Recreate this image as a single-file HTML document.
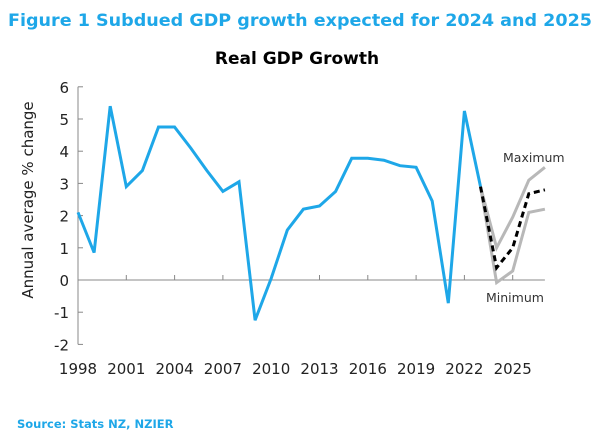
<!DOCTYPE html>
<html><head><meta charset="utf-8"><style>
body{margin:0;background:#fff;width:600px;height:447px;overflow:hidden}
svg{display:block;font-family:"DejaVu Sans","Liberation Sans",sans-serif}
</style></head><body>
<svg id="c" width="600" height="447" viewBox="0 0 600 447">
<text x="8" y="26" font-size="17" font-weight="bold" fill="#1ea7e8" textLength="584" lengthAdjust="spacingAndGlyphs">Figure 1 Subdued GDP growth expected for 2024 and 2025</text>
<text x="297" y="64" font-size="17" font-weight="bold" fill="#000" text-anchor="middle">Real GDP Growth</text>
<text x="17" y="428" font-size="11.5" font-weight="bold" fill="#1ea7e8">Source: Stats NZ, NZIER</text>
<text transform="translate(33,200) rotate(-90)" font-size="15" text-anchor="middle" fill="#222">Annual average % change</text>
<g id="axes"></g><g id="series"></g>
<text x="503" y="162" font-size="12.5" fill="#333">Maximum</text>
<text x="486" y="302" font-size="12.5" fill="#333">Minimum</text>
</svg>
<script>
const years=[1998,1999,2000,2001,2002,2003,2004,2005,2006,2007,2008,2009,2010,2011,2012,2013,2014,2015,2016,2017,2018,2019,2020,2021,2022,2023];
const actual=[2.1,0.85,5.4,2.9,3.4,4.75,4.75,4.1,3.4,2.75,3.05,-1.25,0.05,1.55,2.2,2.3,2.75,3.78,3.78,3.72,3.55,3.5,2.45,-0.72,5.25,2.9];
const fcYears=[2023,2024,2025,2026,2027];
const central=[2.9,0.38,1.0,2.68,2.8];
const maximum=[2.9,1.0,1.95,3.1,3.5];
const minimum=[2.9,-0.08,0.28,2.1,2.2];
const yTicks=[6,5,4,3,2,1,0,-1,-2];
const xTicks=[1998,2001,2004,2007,2010,2013,2016,2019,2022,2025];
const ns="http://www.w3.org/2000/svg";
const X=y=>78+(y-1998)*16.1;
const Y=v=>280-v*32.2;
function mk(t,a,p){const e=document.createElementNS(ns,t);for(const k in a)e.setAttribute(k,a[k]);p.appendChild(e);return e;}
const ax=document.getElementById('axes'),se=document.getElementById('series');
let e=mk('line',{x1:X(1998),x2:X(1998),y1:Y(6),y2:Y(-2),stroke:'#888','stroke-width':1},ax);


e=mk('line',{x1:X(1998),x2:X(2027),y1:Y(0),y2:Y(0),stroke:'#888','stroke-width':1},ax);


yTicks.forEach(v=>{
 mk('line',{x1:X(1998),x2:X(1998)+5,y1:Y(v),y2:Y(v),stroke:'#888'},ax);
 const t=mk('text',{x:X(1998)-9,y:Y(v)+6,'font-size':15,'text-anchor':'end',fill:'#222'},ax);t.textContent=v;
 
 
});
xTicks.forEach(v=>{
 mk('line',{x1:X(v),x2:X(v),y1:Y(0),y2:Y(0)-5,stroke:'#888'},ax);
 const t=mk('text',{x:X(v),y:374,'font-size':15,'text-anchor':'middle',fill:'#222'},ax);t.textContent=v;
 
 
});
function pts(xs,vs){return xs.map((x,i)=>X(x)+','+Y(vs[i])).join(' ');}
e=mk('polyline',{points:pts(fcYears,maximum),fill:'none',stroke:'#b8b8b8','stroke-width':3},se);


e=mk('polyline',{points:pts(fcYears,minimum),fill:'none',stroke:'#b8b8b8','stroke-width':3},se);


e=mk('polyline',{points:pts(years,actual),fill:'none',stroke:'#1ea7e8','stroke-width':3},se);


e=mk('polyline',{points:pts(fcYears,central),fill:'none',stroke:'#000','stroke-width':3,'stroke-dasharray':'6,4'},se);


</script>
</body></html>
